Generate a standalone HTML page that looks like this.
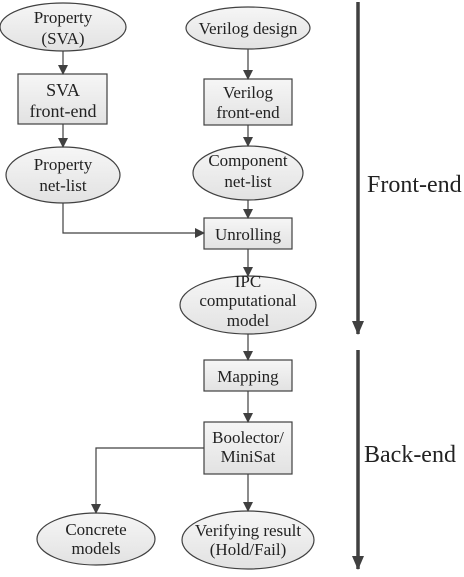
<!DOCTYPE html>
<html><head><meta charset="utf-8"><style>html,body{margin:0;padding:0;background:#fff}svg text{font-family:"Liberation Serif",serif}</style></head>
<body>
<svg width="464" height="572" viewBox="0 0 464 572" xmlns="http://www.w3.org/2000/svg" font-size="17" fill="#222">
<defs>
<linearGradient id="g" x1="0" y1="0" x2="0" y2="1"><stop offset="0" stop-color="#f6f6f6"/><stop offset="1" stop-color="#e2e2e2"/></linearGradient>
<marker id="a" markerWidth="10" markerHeight="10" refX="9" refY="5" orient="auto" markerUnits="userSpaceOnUse"><path d="M0,0 L10,5 L0,10 z" fill="#404040"/></marker>
<marker id="b" markerWidth="14" markerHeight="14" refX="13" refY="7" orient="auto" markerUnits="userSpaceOnUse"><path d="M0,1 L14,7 L0,13 z" fill="#404040"/></marker>
</defs>
<g stroke="#404040" stroke-width="1.2" fill="url(#g)">
<ellipse cx="63" cy="27" rx="63" ry="24"/>
<ellipse cx="248" cy="28" rx="62" ry="21"/>
<rect x="18" y="74" width="89" height="50"/>
<rect x="204" y="79" width="88" height="46"/>
<ellipse cx="63" cy="175" rx="57" ry="28"/>
<ellipse cx="248" cy="173" rx="55" ry="27"/>
<rect x="204" y="218" width="88" height="31"/>
<ellipse cx="248" cy="305" rx="68" ry="29"/>
<rect x="204" y="360" width="88" height="31"/>
<rect x="204" y="422" width="88" height="52"/>
<ellipse cx="96" cy="539" rx="59" ry="26"/>
<ellipse cx="248" cy="540" rx="66" ry="29"/>
</g>
<g stroke="#404040" stroke-width="1.2" fill="none" marker-end="url(#a)">
<line x1="63" y1="51" x2="63" y2="74"/>
<line x1="248" y1="49" x2="248" y2="79"/>
<line x1="63" y1="124" x2="63" y2="147"/>
<line x1="248" y1="125" x2="248" y2="146"/>
<polyline points="63,203 63,233 204,233"/>
<line x1="248" y1="200" x2="248" y2="218"/>
<line x1="248" y1="249" x2="248" y2="276"/>
<line x1="248" y1="334" x2="248" y2="360"/>
<line x1="248" y1="391" x2="248" y2="422"/>
<polyline points="204,448 96,448 96,513"/>
<line x1="248" y1="474" x2="248" y2="511"/>
</g>
<g stroke="#404040" stroke-width="3.5" marker-end="url(#b)">
<line x1="358" y1="2" x2="358" y2="334"/>
<line x1="358" y1="350" x2="358" y2="569"/>
</g>
<g text-anchor="middle">
<text x="63" y="23">Property</text><text x="63" y="44">(SVA)</text>
<text x="248" y="34">Verilog design</text>
<text x="63" y="96" font-size="18">SVA</text><text x="63" y="117" font-size="18">front-end</text>
<text x="248" y="98">Verilog</text><text x="248" y="118">front-end</text>
<text x="63" y="170">Property</text><text x="63" y="191">net-list</text>
<text x="248" y="166">Component</text><text x="248" y="187">net-list</text>
<text x="248" y="240">Unrolling</text>
<text x="248" y="287">IPC</text><text x="248" y="306">computational</text><text x="248" y="326">model</text>
<text x="248" y="382">Mapping</text>
<text x="248" y="443">Boolector/</text><text x="248" y="462">MiniSat</text>
<text x="96" y="535">Concrete</text><text x="96" y="554">models</text>
<text x="248" y="536">Verifying result</text><text x="248" y="555">(Hold/Fail)</text>
</g>
<text x="367" y="192" font-size="24">Front-end</text>
<text x="364" y="462" font-size="24">Back-end</text>
</svg>
</body></html>
